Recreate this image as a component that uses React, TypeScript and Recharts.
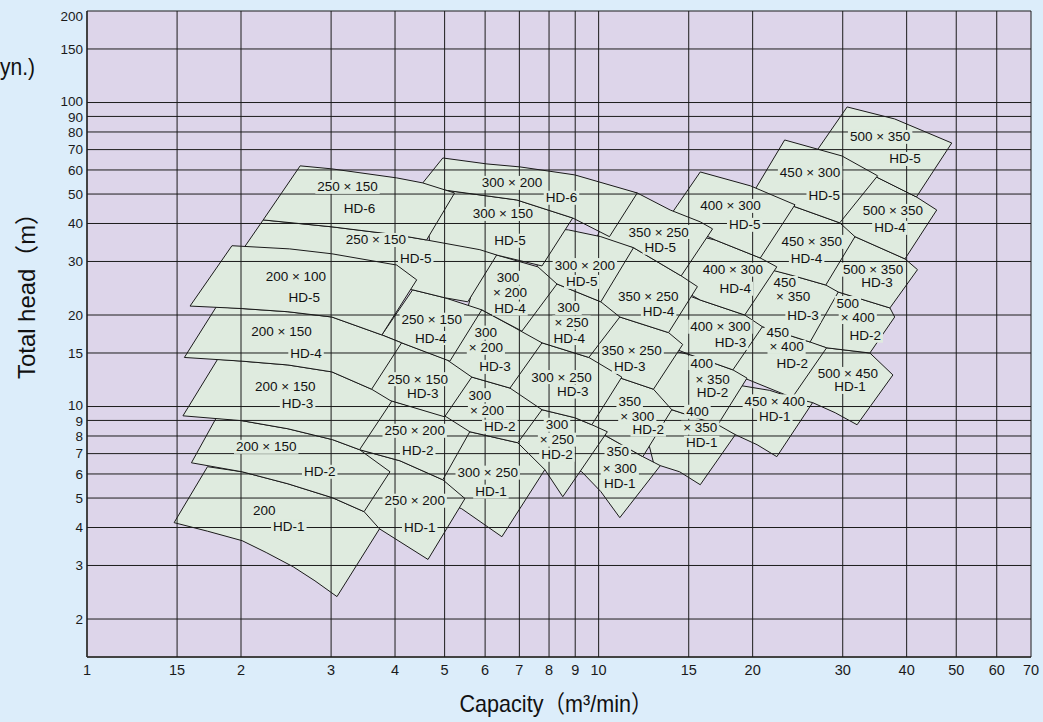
import React from 'react';
import { ScatterChart, Scatter, XAxis, YAxis, CartesianGrid } from 'recharts';

type Pt = [number, number];
type Lbl = { x: number; y: number; t: string };

// axis ticks: capacity (m3/min) and total head (m)
const xTicks = [1, 1.5, 2, 3, 4, 5, 6, 7, 8, 9, 10, 15, 20, 30, 40, 50, 60, 70];
const yTicks = [2, 3, 4, 5, 6, 7, 8, 9, 10, 15, 20, 30, 40, 50, 60, 70, 80, 90, 100, 150, 200];

// pump ranges, outline points [capacity, head]
// 500 series
const r500hd1: Pt[] = [[23.1, 9.76], [26.1, 16.0], [27.9, 15.6], [33.9, 15.0], [37.6, 12.7], [32.0, 8.71], [29.0, 9.54], [26.2, 10.3]];
const r500hd2: Pt[] = [[24.7, 16.6], [26.5, 24.6], [29.4, 23.8], [37.1, 21.1], [37.9, 19.7], [33.9, 15.0], [27.9, 15.6]];
const r500hd3: Pt[] = [[25.3, 26.1], [27.7, 37.5], [31.7, 36.2], [39.7, 30.6], [42.0, 28.2], [37.1, 21.1], [29.4, 23.8]];
const r500hd4: Pt[] = [[27.1, 39.6], [29.6, 60.0], [33.9, 58.3], [41.8, 48.9], [45.8, 44.3], [39.7, 30.6], [31.7, 36.2]];
const r500hd5: Pt[] = [[26.1, 65.7], [30.6, 96.7], [37.9, 88.3], [49.0, 73.6], [41.8, 48.9], [33.9, 58.3]];
// 450 series
const r450hd1: Pt[] = [[16.9, 8.52], [18.5, 11.8], [21.6, 11.3], [23.9, 10.7], [26.2, 10.3], [22.3, 6.84], [20.4, 7.49], [18.5, 8.08]];
const r450hd2: Pt[] = [[17.3, 12.7], [18.5, 19.3], [20.9, 18.3], [25.9, 16.3], [27.9, 15.6], [23.9, 10.7], [19.5, 12.3]];
const r450hd3: Pt[] = [[18.1, 19.3], [19.3, 29.9], [23.7, 27.1], [27.8, 25.1], [29.4, 23.8], [25.9, 16.3], [20.9, 18.3]];
const r450hd4: Pt[] = [[18.9, 29.9], [20.7, 49.7], [24.2, 45.4], [29.6, 40.2], [31.7, 36.2], [27.8, 25.1], [23.7, 27.1]];
const r450hd5: Pt[] = [[20.2, 51.6], [23.1, 75.3], [29.9, 66.7], [35.1, 57.4], [29.6, 40.2], [24.2, 45.4]];
// 400 series
const r400hd1: Pt[] = [[12.9, 6.2], [12.0, 10.1], [13.9, 9.76], [17.1, 8.71], [18.5, 8.08], [15.8, 5.53], [14.4, 6.1], [13.2, 6.39]];
const r400hd2: Pt[] = [[11.5, 10.9], [12.3, 16.0], [15.1, 14.8], [18.3, 13.2], [19.5, 12.4], [17.1, 8.71], [13.9, 9.76]];
const r400hd3: Pt[] = [[12.0, 17.2], [13.2, 25.1], [15.8, 22.4], [19.3, 20.0], [20.9, 18.3], [18.3, 13.2], [15.1, 14.8]];
const r400hd4: Pt[] = [[12.9, 27.1], [13.9, 38.1], [16.9, 35.3], [20.7, 30.8], [22.3, 28.8], [19.3, 20.0], [15.8, 22.4]];
const r400hd5: Pt[] = [[13.7, 41.7], [15.8, 59.1], [19.8, 53.2], [24.2, 46.1], [20.7, 30.8], [16.9, 35.3]];
// 350 series
const r350hd1: Pt[] = [[8.98, 6.2], [8.59, 8.39], [10.0, 8.26], [12.2, 6.84], [13.2, 6.39], [11.0, 4.31], [10.1, 5.25], [9.27, 6.1]];
const r350hd2: Pt[] = [[8.46, 9.05], [8.98, 13.2], [10.3, 12.9], [12.8, 11.4], [13.9, 9.76], [12.2, 6.84], [10.0, 8.26]];
const r350hd3: Pt[] = [[8.85, 14.3], [9.66, 20.8], [11.0, 19.7], [13.7, 17.5], [14.6, 16.0], [12.8, 11.4], [10.3, 12.9]];
const r350hd4: Pt[] = [[9.19, 22.4], [10.1, 32.8], [11.7, 33.3], [14.5, 26.9], [15.6, 24.8], [13.7, 17.5], [11.0, 19.7]];
const r350hd5: Pt[] = [[9.88, 35.3], [10.8, 51.6], [11.9, 50.4], [13.8, 44.3], [15.8, 40.5], [16.7, 38.4], [14.5, 26.9], [11.7, 33.3]];
// 300 series (right group)
const r300bhd2: Pt[] = [[6.56, 7.49], [6.71, 10.1], [7.75, 9.76], [8.98, 9.19], [9.7, 8.71], [10.4, 8.26], [8.51, 5.05], [7.85, 6.2]];
const r300bhd3: Pt[] = [[6.56, 10.9], [6.86, 16.6], [7.75, 16.2], [9.57, 14.5], [11.1, 12.5], [9.7, 8.71], [8.98, 9.19], [7.75, 9.76]];
const r300bhd4: Pt[] = [[6.86, 17.2], [7.34, 25.1], [8.29, 25.3], [10.1, 22.1], [11.0, 19.7], [9.57, 14.5], [7.75, 16.2]];
const r300bhd5: Pt[] = [[7.5, 26.5], [7.85, 38.7], [8.73, 38.1], [10.1, 36.2], [11.7, 33.3], [10.1, 22.1], [8.29, 25.3]];
// 300 series (left group)
const r300hd1: Pt[] = [[4.89, 4.94], [4.89, 8.26], [5.6, 8.26], [6.95, 7.6], [7.85, 6.2], [6.47, 3.73], [5.4, 4.61]];
const r300hd2: Pt[] = [[4.89, 8.39], [5.0, 12.9], [5.65, 12.5], [6.71, 11.5], [7.75, 9.76], [6.95, 7.6], [5.6, 8.26]];
const r300hd3: Pt[] = [[4.89, 12.6], [5.4, 21.4], [5.91, 20.8], [6.8, 18.3], [7.75, 16.2], [6.71, 11.5], [5.65, 12.5]];
const r300hd4: Pt[] = [[5.55, 21.1], [5.91, 31.8], [6.32, 31.5], [7.61, 28.8], [8.29, 25.3], [7.08, 17.7], [5.91, 20.8]];
const r300hd5: Pt[] = [[4.68, 34.0], [4.57, 52.4], [4.96, 51.6], [6.92, 47.8], [8.9, 41.7], [7.75, 29.0], [6.32, 31.5], [5.6, 32.8]];
const r300hd6: Pt[] = [[4.37, 50.4], [4.96, 65.7], [6.05, 62.8], [7.02, 61.4], [8.98, 57.8], [11.9, 50.4], [10.5, 36.2], [8.9, 41.7], [6.92, 47.8], [4.96, 51.6]];
// 250 series
const r250hd1: Pt[] = [[3.12, 4.58], [3.12, 7.43], [3.41, 7.21], [4.09, 6.63], [4.96, 5.74], [5.48, 4.98], [4.64, 3.14], [3.73, 3.96]];
const r250hd2: Pt[] = [[3.19, 7.37], [3.26, 11.1], [3.96, 10.4], [4.96, 9.4], [5.6, 8.26], [4.96, 5.74], [4.09, 6.63], [3.41, 7.21]];
const r250hd3: Pt[] = [[3.34, 11.1], [3.41, 17.9], [3.77, 17.2], [4.12, 16.2], [5.05, 14.25], [5.65, 12.5], [5.0, 9.25], [3.96, 10.4]];
const r250hd4: Pt[] = [[3.77, 17.2], [4.33, 24.2], [5.0, 22.8], [5.91, 20.8], [5.12, 14.1], [4.12, 16.2]];
const r250hd5: Pt[] = [[1.88, 27.7], [2.21, 41.1], [3.01, 39.0], [4.03, 36.7], [4.61, 35.3], [5.86, 32.8], [6.32, 31.5], [5.55, 22.1], [5.0, 22.8], [4.33, 24.2], [2.98, 26.5]];
const r250hd6: Pt[] = [[2.21, 41.1], [2.61, 61.9], [3.01, 60.5], [4.03, 56.5], [4.53, 54.4], [5.23, 50.4], [4.61, 35.3], [4.03, 36.7], [3.01, 39.0]];
// 200 series
const r200hd1: Pt[] = [[1.48, 4.15], [1.72, 6.34], [2.01, 6.1], [2.47, 5.57], [3.02, 5.01], [3.48, 4.51], [3.73, 3.96], [3.08, 2.37], [2.79, 2.67], [2.53, 2.97], [2.24, 3.31], [2.01, 3.62], [1.72, 3.89]];
const r200hd2: Pt[] = [[1.6, 6.53], [1.79, 9.19], [2.01, 8.98], [2.47, 8.45], [3.02, 7.78], [3.41, 7.21], [3.91, 6.1], [3.48, 4.51], [3.02, 5.01], [2.47, 5.57], [2.01, 6.1]];
const r200hd3: Pt[] = [[1.54, 9.32], [1.8, 14.3], [2.01, 14.1], [2.47, 13.7], [3.01, 13.0], [3.6, 11.4], [3.94, 10.4], [3.41, 7.21], [3.02, 7.78], [2.47, 8.45], [2.01, 8.98]];
const r200hd4: Pt[] = [[1.55, 14.5], [1.79, 21.3], [2.01, 21.0], [2.47, 20.5], [3.01, 19.7], [3.77, 17.2], [4.12, 16.2], [3.6, 11.4], [3.01, 13.0], [2.47, 13.7], [2.01, 14.1]];
const r200hd5: Pt[] = [[1.59, 21.4], [1.92, 33.8], [2.49, 33.0], [3.01, 31.8], [4.03, 29.2], [4.41, 26.1], [3.77, 17.2], [3.01, 19.7], [2.47, 20.5], [2.01, 21.0]];

// labels inside the ranges
const labels200: Lbl[] = [
  { x: 2.22, y: 4.54, t: '200' }, { x: 2.48, y: 4.03, t: 'HD-1' },
  { x: 2.24, y: 7.37, t: '200 × 150' }, { x: 2.85, y: 6.1, t: 'HD-2' },
  { x: 2.44, y: 11.6, t: '200 × 150' }, { x: 2.58, y: 10.2, t: 'HD-3' },
  { x: 2.4, y: 17.7, t: '200 × 150' }, { x: 2.68, y: 14.9, t: 'HD-4' },
  { x: 2.56, y: 26.7, t: '200 × 100' }, { x: 2.66, y: 22.8, t: 'HD-5' },
];
const labels250: Lbl[] = [
  { x: 3.23, y: 52.8, t: '250 × 150' }, { x: 3.41, y: 44.7, t: 'HD-6' },
  { x: 3.67, y: 35.3, t: '250 × 150' }, { x: 4.39, y: 30.6, t: 'HD-5' },
  { x: 4.72, y: 19.3, t: '250 × 150' }, { x: 4.7, y: 16.8, t: 'HD-4' },
  { x: 4.43, y: 12.3, t: '250 × 150' }, { x: 4.53, y: 11.0, t: 'HD-3' },
  { x: 4.37, y: 8.32, t: '250 × 200' }, { x: 4.43, y: 7.16, t: 'HD-2' },
  { x: 4.37, y: 4.9, t: '250 × 200' }, { x: 4.47, y: 4.0, t: 'HD-1' },
];
const labels300: Lbl[] = [
  { x: 6.77, y: 54.4, t: '300 × 200' }, { x: 8.46, y: 48.6, t: 'HD-6' },
  { x: 6.5, y: 43.0, t: '300 × 150' }, { x: 6.71, y: 35.1, t: 'HD-5' },
  { x: 6.65, y: 26.5, t: '300' }, { x: 6.71, y: 23.7, t: '× 200' }, { x: 6.71, y: 21.0, t: 'HD-4' },
  { x: 6.02, y: 17.5, t: '300' }, { x: 6.02, y: 15.6, t: '× 200' }, { x: 6.27, y: 13.5, t: 'HD-3' },
  { x: 5.86, y: 10.9, t: '300' }, { x: 6.05, y: 9.69, t: '× 200' }, { x: 6.41, y: 8.58, t: 'HD-2' },
  { x: 6.07, y: 6.06, t: '300 × 250' }, { x: 6.16, y: 5.25, t: 'HD-1' },
  { x: 9.4, y: 29.2, t: '300 × 200' }, { x: 9.27, y: 25.7, t: 'HD-5' },
  { x: 8.73, y: 21.1, t: '300' }, { x: 8.85, y: 18.9, t: '× 250' }, { x: 8.76, y: 16.8, t: 'HD-4' },
  { x: 8.46, y: 12.5, t: '300 × 250' }, { x: 8.9, y: 11.2, t: 'HD-3' },
  { x: 8.29, y: 8.71, t: '300' }, { x: 8.29, y: 7.78, t: '× 250' }, { x: 8.29, y: 6.94, t: 'HD-2' },
];
const labels350: Lbl[] = [
  { x: 13.1, y: 37.5, t: '350 × 250' }, { x: 13.2, y: 33.3, t: 'HD-5' },
  { x: 12.5, y: 23.0, t: '350 × 250' }, { x: 13.1, y: 20.5, t: 'HD-4' },
  { x: 11.6, y: 15.3, t: '350 × 250' }, { x: 11.5, y: 13.5, t: 'HD-3' },
  { x: 11.5, y: 10.4, t: '350' }, { x: 11.9, y: 9.25, t: '× 300' }, { x: 12.5, y: 8.39, t: 'HD-2' },
  { x: 10.9, y: 7.1, t: '350' }, { x: 11.0, y: 6.24, t: '× 300' }, { x: 11.0, y: 5.57, t: 'HD-1' },
];
const labels400: Lbl[] = [
  { x: 18.1, y: 45.7, t: '400 × 300' }, { x: 19.3, y: 39.6, t: 'HD-5' },
  { x: 18.3, y: 28.2, t: '400 × 300' }, { x: 18.5, y: 24.4, t: 'HD-4' },
  { x: 17.3, y: 18.3, t: '400 × 300' }, { x: 18.1, y: 16.2, t: 'HD-3' },
  { x: 15.9, y: 13.9, t: '400' }, { x: 16.7, y: 12.3, t: '× 350' }, { x: 16.7, y: 11.1, t: 'HD-2' },
  { x: 15.6, y: 9.61, t: '400' }, { x: 15.8, y: 8.52, t: '× 350' }, { x: 15.9, y: 7.6, t: 'HD-1' },
];
const labels450: Lbl[] = [
  { x: 25.9, y: 58.7, t: '450 × 300' }, { x: 27.6, y: 49.3, t: 'HD-5' },
  { x: 26.1, y: 34.8, t: '450 × 350' }, { x: 25.5, y: 30.6, t: 'HD-4' },
  { x: 23.1, y: 25.5, t: '450' }, { x: 24.0, y: 23.0, t: '× 350' }, { x: 25.1, y: 19.9, t: 'HD-3' },
  { x: 22.4, y: 17.5, t: '450' }, { x: 23.3, y: 15.7, t: '× 400' }, { x: 23.9, y: 13.9, t: 'HD-2' },
  { x: 22.1, y: 10.4, t: '450 × 400' }, { x: 22.1, y: 9.25, t: 'HD-1' },
];
const labels500: Lbl[] = [
  { x: 35.5, y: 77.1, t: '500 × 350' }, { x: 39.7, y: 65.2, t: 'HD-5' },
  { x: 37.6, y: 44.0, t: '500 × 350' }, { x: 37.1, y: 38.7, t: 'HD-4' },
  { x: 34.4, y: 28.2, t: '500 × 350' }, { x: 35.0, y: 25.5, t: 'HD-3' },
  { x: 30.7, y: 21.9, t: '500' }, { x: 32.1, y: 19.7, t: '× 400' }, { x: 33.2, y: 17.1, t: 'HD-2' },
  { x: 30.7, y: 12.8, t: '500 × 450' }, { x: 31.0, y: 11.6, t: 'HD-1' },
];

// drawn right to left, bottom to top, so the left ranges overlap the right ones
const ranges: Pt[][] = [
  r500hd1, r500hd2, r500hd3, r500hd4, r500hd5,
  r450hd1, r450hd2, r450hd3, r450hd4, r450hd5,
  r400hd1, r400hd2, r400hd3, r400hd4, r400hd5,
  r350hd1, r350hd2, r350hd3, r350hd4, r350hd5,
  r300bhd2, r300bhd3, r300bhd4, r300bhd5,
  r300hd1, r300hd2, r300hd3, r300hd4, r300hd5, r300hd6,
  r250hd1, r250hd2, r250hd3, r250hd4, r250hd5, r250hd6,
  r200hd1, r200hd2, r200hd3, r200hd4, r200hd5,
];
const allLabels = [...labels200, ...labels250, ...labels300, ...labels350, ...labels400, ...labels450, ...labels500];

const PAGE_BG = '#dcedfa';
const PLOT_BG = '#ddd5ea';
const RANGE_FILL = '#dfebdf';
const FONT = '"Liberation Sans", Arial, "Noto Sans CJK JP", sans-serif';

const charW: Record<string, number> = { ' ': 3.75, '×': 7.9, H: 9.75, D: 9.75, '-': 4.5 };
const textWidth = (s: string) => s.split('').reduce((w, c) => w + (charW[c] ?? 7.5), 0);

const NoDot = () => <g />;

function RangeLabel(props: any) {
  const { cx, cy } = props;
  const t: string = props.payload?.t ?? props.t ?? '';
  const w = textWidth(t);
  return (
    <g>
      <rect x={cx - w / 2 - 2} y={cy - 7} width={w + 4} height={14} fill={RANGE_FILL} />
      <text x={cx} y={cy} textAnchor="middle" dominantBaseline="central" fontSize={13.5} fill="#111" fontFamily={FONT}>
        {t}
      </text>
    </g>
  );
}

// small nudges keep the crowded labels (100/90, 10/9) apart
const tickNudge: Record<number, number> = { 200: 5, 100: -1, 90: 1, 10: -1, 9: 1 };

function YTick(props: any) {
  const { x, y, payload } = props;
  const shift = tickNudge[payload.value] ?? 0;
  return (
    <text x={x} y={y + shift} dy="0.355em" textAnchor="end" fontSize={13.5} fill="#1a1a1a" fontFamily={FONT}>
      {payload.value}
    </text>
  );
}

function XTick(props: any) {
  const { x, y, payload } = props;
  return (
    <text x={x} y={y} dy="0.71em" textAnchor="middle" fontSize={14.5} fill="#1a1a1a" fontFamily={FONT}>
      {payload.value === 1.5 ? '15' : payload.value}
    </text>
  );
}

export default function App() {
  return (
    <div style={{ position: 'absolute', left: 0, top: 0, width: 1043, height: 722, background: PAGE_BG, overflow: 'hidden' }}>
      <ScatterChart width={1043} height={722} margin={{ top: 11, right: 12, bottom: 35, left: 47 }}>
        <CartesianGrid horizontal={false} vertical={false} fill={PLOT_BG} fillOpacity={1} zIndex={-200} />
        <XAxis
          type="number"
          dataKey="x"
          scale="log"
          domain={[1, 70]}
          ticks={xTicks}
          interval={0}
          allowDataOverflow
          axisLine={{ stroke: '#6b6b6b', strokeWidth: 2 }}
          tickLine={false}
          tickSize={6}
          tickMargin={2}
          height={30}
          tick={<XTick />}
        />
        <YAxis
          type="number"
          dataKey="y"
          scale="log"
          domain={[1.5, 200]}
          ticks={yTicks}
          interval={0}
          allowDataOverflow
          axisLine={{ stroke: '#6b6b6b', strokeWidth: 2 }}
          tickLine={false}
          tickSize={2}
          tickMargin={2}
          width={40}
          tick={<YTick />}
        />
        {ranges.map((pts, i) => (
          <Scatter
            key={i}
            data={[...pts, pts[0]].map(([x, y]) => ({ x, y }))}
            line={{ stroke: '#1a1a1a', strokeWidth: 1, fill: RANGE_FILL }}
            lineJointType="linear"
            shape={NoDot}
            isAnimationActive={false}
            zIndex={600}
          />
        ))}
        <CartesianGrid stroke="#1c1c1c" strokeWidth={1} fill="none" zIndex={700} />
        <Scatter data={allLabels} shape={RangeLabel} isAnimationActive={false} zIndex={800} />
      </ScatterChart>
      <svg width={1043} height={722} style={{ position: 'absolute', left: 0, top: 0, pointerEvents: 'none' }}>
        <text x={0} y={75} fontSize={24} fill="#111" fontFamily={FONT} textLength={35} lengthAdjust="spacingAndGlyphs">
          yn.)
        </text>
        <text
          transform="translate(35,290) rotate(-90)"
          textAnchor="middle"
          fontSize={24}
          fill="#111"
          fontFamily={FONT}
          textLength={178}
          lengthAdjust="spacingAndGlyphs"
        >
          Total head（m）
        </text>
        <text x={556} y={712} textAnchor="middle" fontSize={24} fill="#111" fontFamily={FONT} textLength={193} lengthAdjust="spacingAndGlyphs">
          Capacity（m³/min）
        </text>
      </svg>
    </div>
  );
}
